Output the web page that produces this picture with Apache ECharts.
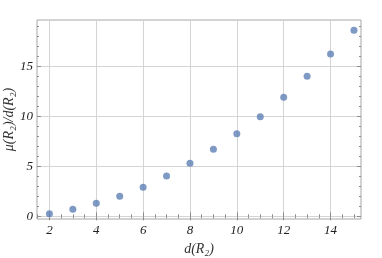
<!DOCTYPE html>
<html><head><meta charset="utf-8">
<script src="https://cdn.jsdelivr.net/npm/echarts@6/dist/echarts.min.js"></script>
<style>html,body{margin:0;padding:0;background:#fff}#c{width:382px;height:258px}</style>
</head><body><div id="c"></div>
<script>
var xValues = [2,3,4,5,6,7,8,9,10,11,12,13,14,15];
var yValues = [0.26,0.7,1.3,2.0,2.9,4.03,5.3,6.7,8.26,9.96,11.9,14.0,16.23,18.6];
var xMajorTicks = [2,4,6,8,10,12,14];
var xMinorTicks = [1.5,2.5,3,3.5,4.5,5,5.5,6.5,7,7.5,8.5,9,9.5,10.5,11,11.5,12.5,13,13.5,14.5,15];
var yMajorTicks = [0,5,10,15];
var yMinorTicks = [1,2,3,4,6,7,8,9,11,12,13,14,16,17,18,19];
var xLabel = 'd(R\u2082)';
var yLabel = '\u03bc(R\u2082)/d(R\u2082)';

var XMIN = 1.47, XMAX = 15.3, YMIN = -0.27, YMAX = 19.63;
var frameColor = '#a6a6a6', tickColor = '#8c8c8c', gridColor = '#d4d4d4';
var font = 'Liberation Serif';

function xa(pos, ticks, len, labels, split, name) {
  return {
    type: 'value', position: pos, min: XMIN, max: XMAX,
    name: name || '', nameLocation: 'middle', nameGap: 23, nameMoveOverlap: false,
    nameTextStyle: {fontFamily: font, fontStyle: 'italic', fontSize: 14, color: '#333'},
    axisLine: {show: false},
    axisTick: {show: true, inside: true, length: len, customValues: ticks, lineStyle: {color: tickColor, width: 1}},
    axisLabel: {show: labels, customValues: ticks, margin: 5, fontFamily: font, fontStyle: 'italic', fontSize: 13, color: '#222'},
    splitLine: {show: split, lineStyle: {color: gridColor, width: 1}},
    minorTick: {show: false}
  };
}
function ya(pos, ticks, len, labels, split, name) {
  return {
    type: 'value', position: pos, min: YMIN, max: YMAX,
    name: name || '', nameLocation: 'middle', nameGap: 21, nameRotate: 90, nameMoveOverlap: false,
    nameTextStyle: {fontFamily: font, fontStyle: 'italic', fontSize: 14, color: '#333'},
    axisLine: {show: false},
    axisTick: {show: true, inside: true, length: len, customValues: ticks, lineStyle: {color: tickColor, width: 1}},
    axisLabel: {show: labels, customValues: ticks, margin: 4, fontFamily: font, fontStyle: 'italic', fontSize: 13, color: '#222'},
    splitLine: {show: split, lineStyle: {color: gridColor, width: 1}},
    minorTick: {show: false}
  };
}

var chart = echarts.init(document.getElementById('c'), null, {renderer: 'canvas'});
chart.setOption({
  animation: false,
  grid: {left: 37, right: 21, top: 20, bottom: 39, containLabel: false, outerBoundsMode: 'none',
         show: true, borderColor: frameColor, borderWidth: 1, backgroundColor: 'transparent'},
  xAxis: [
    xa('bottom', xMajorTicks, 4, true, true, xLabel),
    xa('bottom', xMinorTicks, 2, false, false),
    xa('top', xMajorTicks, 4, false, false),
    xa('top', xMinorTicks, 2, false, false)
  ],
  yAxis: [
    ya('left', yMajorTicks, 4, true, true, yLabel),
    ya('left', yMinorTicks, 2, false, false),
    ya('right', yMajorTicks, 4, false, false),
    ya('right', yMinorTicks, 2, false, false)
  ],
  series: [{
    type: 'scatter', xAxisIndex: 0, yAxisIndex: 0,
    symbol: 'circle', symbolSize: 7,
    itemStyle: {color: '#5e81b5'},
    data: xValues.map(function (x, i) { return [x, yValues[i]]; })
  }]
});
</script></body></html>
